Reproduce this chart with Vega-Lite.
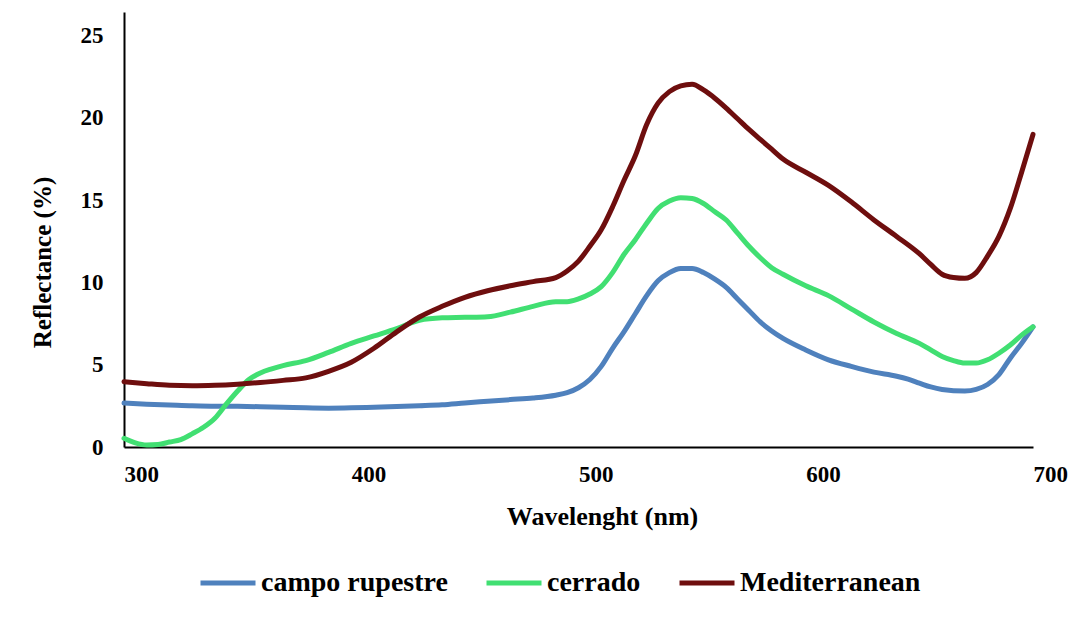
{
  "$schema": "https://vega.github.io/schema/vega-lite/v6.json",
  "width": 909,
  "height": 435,
  "autosize": "none",
  "padding": {"left": 124, "top": 12, "right": 52, "bottom": 175},
  "background": "white",
  "config": {
    "font": "Liberation Serif",
    "view": {"stroke": null}
  },
  "datasets": {
    "spectra": [
      {"series": "campo rupestre", "wl": 300, "r": 2.67}, {"series": "campo rupestre", "wl": 310, "r": 2.6}, {"series": "campo rupestre", "wl": 320, "r": 2.55}, {"series": "campo rupestre", "wl": 330, "r": 2.5}, {"series": "campo rupestre", "wl": 340, "r": 2.48}, {"series": "campo rupestre", "wl": 350, "r": 2.47}, {"series": "campo rupestre", "wl": 360, "r": 2.45}, {"series": "campo rupestre", "wl": 370, "r": 2.42}, {"series": "campo rupestre", "wl": 380, "r": 2.38}, {"series": "campo rupestre", "wl": 390, "r": 2.36}, {"series": "campo rupestre", "wl": 400, "r": 2.38}, {"series": "campo rupestre", "wl": 410, "r": 2.42}, {"series": "campo rupestre", "wl": 420, "r": 2.46}, {"series": "campo rupestre", "wl": 430, "r": 2.51}, {"series": "campo rupestre", "wl": 440, "r": 2.57}, {"series": "campo rupestre", "wl": 450, "r": 2.68}, {"series": "campo rupestre", "wl": 460, "r": 2.78}, {"series": "campo rupestre", "wl": 470, "r": 2.88}, {"series": "campo rupestre", "wl": 480, "r": 2.98}, {"series": "campo rupestre", "wl": 490, "r": 3.15}, {"series": "campo rupestre", "wl": 495, "r": 3.3}, {"series": "campo rupestre", "wl": 500, "r": 3.6}, {"series": "campo rupestre", "wl": 505, "r": 4.1}, {"series": "campo rupestre", "wl": 510, "r": 4.9}, {"series": "campo rupestre", "wl": 515, "r": 6.0}, {"series": "campo rupestre", "wl": 520, "r": 7.0}, {"series": "campo rupestre", "wl": 525, "r": 8.1}, {"series": "campo rupestre", "wl": 530, "r": 9.2}, {"series": "campo rupestre", "wl": 535, "r": 10.1}, {"series": "campo rupestre", "wl": 540, "r": 10.6}, {"series": "campo rupestre", "wl": 545, "r": 10.85}, {"series": "campo rupestre", "wl": 550, "r": 10.85}, {"series": "campo rupestre", "wl": 555, "r": 10.6}, {"series": "campo rupestre", "wl": 560, "r": 10.2}, {"series": "campo rupestre", "wl": 565, "r": 9.7}, {"series": "campo rupestre", "wl": 570, "r": 9.0}, {"series": "campo rupestre", "wl": 575, "r": 8.3}, {"series": "campo rupestre", "wl": 580, "r": 7.6}, {"series": "campo rupestre", "wl": 585, "r": 7.05}, {"series": "campo rupestre", "wl": 590, "r": 6.6}, {"series": "campo rupestre", "wl": 600, "r": 5.9}, {"series": "campo rupestre", "wl": 610, "r": 5.3}, {"series": "campo rupestre", "wl": 620, "r": 4.9}, {"series": "campo rupestre", "wl": 630, "r": 4.55}, {"series": "campo rupestre", "wl": 640, "r": 4.3}, {"series": "campo rupestre", "wl": 645, "r": 4.12}, {"series": "campo rupestre", "wl": 650, "r": 3.88}, {"series": "campo rupestre", "wl": 655, "r": 3.65}, {"series": "campo rupestre", "wl": 660, "r": 3.5}, {"series": "campo rupestre", "wl": 670, "r": 3.4}, {"series": "campo rupestre", "wl": 675, "r": 3.5}, {"series": "campo rupestre", "wl": 680, "r": 3.8}, {"series": "campo rupestre", "wl": 685, "r": 4.4}, {"series": "campo rupestre", "wl": 690, "r": 5.4}, {"series": "campo rupestre", "wl": 695, "r": 6.3}, {"series": "campo rupestre", "wl": 700, "r": 7.3},

      {"series": "cerrado", "wl": 300, "r": 0.53}, {"series": "cerrado", "wl": 305, "r": 0.25}, {"series": "cerrado", "wl": 310, "r": 0.12}, {"series": "cerrado", "wl": 315, "r": 0.15}, {"series": "cerrado", "wl": 320, "r": 0.3}, {"series": "cerrado", "wl": 325, "r": 0.45}, {"series": "cerrado", "wl": 330, "r": 0.8}, {"series": "cerrado", "wl": 335, "r": 1.2}, {"series": "cerrado", "wl": 340, "r": 1.75}, {"series": "cerrado", "wl": 345, "r": 2.6}, {"series": "cerrado", "wl": 350, "r": 3.4}, {"series": "cerrado", "wl": 355, "r": 4.1}, {"series": "cerrado", "wl": 360, "r": 4.5}, {"series": "cerrado", "wl": 365, "r": 4.75}, {"series": "cerrado", "wl": 370, "r": 4.95}, {"series": "cerrado", "wl": 380, "r": 5.25}, {"series": "cerrado", "wl": 390, "r": 5.75}, {"series": "cerrado", "wl": 400, "r": 6.3}, {"series": "cerrado", "wl": 410, "r": 6.75}, {"series": "cerrado", "wl": 420, "r": 7.2}, {"series": "cerrado", "wl": 430, "r": 7.7}, {"series": "cerrado", "wl": 440, "r": 7.85}, {"series": "cerrado", "wl": 450, "r": 7.88}, {"series": "cerrado", "wl": 460, "r": 7.92}, {"series": "cerrado", "wl": 470, "r": 8.2}, {"series": "cerrado", "wl": 480, "r": 8.55}, {"series": "cerrado", "wl": 490, "r": 8.83}, {"series": "cerrado", "wl": 495, "r": 8.83}, {"series": "cerrado", "wl": 500, "r": 9.0}, {"series": "cerrado", "wl": 505, "r": 9.3}, {"series": "cerrado", "wl": 510, "r": 9.75}, {"series": "cerrado", "wl": 515, "r": 10.6}, {"series": "cerrado", "wl": 520, "r": 11.7}, {"series": "cerrado", "wl": 525, "r": 12.6}, {"series": "cerrado", "wl": 530, "r": 13.6}, {"series": "cerrado", "wl": 535, "r": 14.5}, {"series": "cerrado", "wl": 540, "r": 14.95}, {"series": "cerrado", "wl": 545, "r": 15.15}, {"series": "cerrado", "wl": 550, "r": 15.1}, {"series": "cerrado", "wl": 555, "r": 14.8}, {"series": "cerrado", "wl": 560, "r": 14.3}, {"series": "cerrado", "wl": 565, "r": 13.8}, {"series": "cerrado", "wl": 570, "r": 13.0}, {"series": "cerrado", "wl": 575, "r": 12.2}, {"series": "cerrado", "wl": 580, "r": 11.5}, {"series": "cerrado", "wl": 585, "r": 10.9}, {"series": "cerrado", "wl": 590, "r": 10.5}, {"series": "cerrado", "wl": 600, "r": 9.8}, {"series": "cerrado", "wl": 610, "r": 9.2}, {"series": "cerrado", "wl": 620, "r": 8.4}, {"series": "cerrado", "wl": 630, "r": 7.6}, {"series": "cerrado", "wl": 640, "r": 6.9}, {"series": "cerrado", "wl": 650, "r": 6.3}, {"series": "cerrado", "wl": 655, "r": 5.9}, {"series": "cerrado", "wl": 660, "r": 5.5}, {"series": "cerrado", "wl": 665, "r": 5.25}, {"series": "cerrado", "wl": 670, "r": 5.1}, {"series": "cerrado", "wl": 675, "r": 5.1}, {"series": "cerrado", "wl": 680, "r": 5.3}, {"series": "cerrado", "wl": 685, "r": 5.7}, {"series": "cerrado", "wl": 690, "r": 6.2}, {"series": "cerrado", "wl": 695, "r": 6.8}, {"series": "cerrado", "wl": 700, "r": 7.3},

      {"series": "Mediterranean", "wl": 300, "r": 3.97}, {"series": "Mediterranean", "wl": 310, "r": 3.85}, {"series": "Mediterranean", "wl": 320, "r": 3.75}, {"series": "Mediterranean", "wl": 330, "r": 3.72}, {"series": "Mediterranean", "wl": 340, "r": 3.75}, {"series": "Mediterranean", "wl": 350, "r": 3.82}, {"series": "Mediterranean", "wl": 360, "r": 3.92}, {"series": "Mediterranean", "wl": 370, "r": 4.05}, {"series": "Mediterranean", "wl": 380, "r": 4.2}, {"series": "Mediterranean", "wl": 390, "r": 4.6}, {"series": "Mediterranean", "wl": 400, "r": 5.15}, {"series": "Mediterranean", "wl": 410, "r": 6.0}, {"series": "Mediterranean", "wl": 420, "r": 7.0}, {"series": "Mediterranean", "wl": 430, "r": 7.9}, {"series": "Mediterranean", "wl": 440, "r": 8.55}, {"series": "Mediterranean", "wl": 450, "r": 9.1}, {"series": "Mediterranean", "wl": 460, "r": 9.5}, {"series": "Mediterranean", "wl": 470, "r": 9.8}, {"series": "Mediterranean", "wl": 480, "r": 10.05}, {"series": "Mediterranean", "wl": 490, "r": 10.3}, {"series": "Mediterranean", "wl": 495, "r": 10.7}, {"series": "Mediterranean", "wl": 500, "r": 11.3}, {"series": "Mediterranean", "wl": 505, "r": 12.2}, {"series": "Mediterranean", "wl": 510, "r": 13.2}, {"series": "Mediterranean", "wl": 515, "r": 14.6}, {"series": "Mediterranean", "wl": 520, "r": 16.2}, {"series": "Mediterranean", "wl": 525, "r": 17.7}, {"series": "Mediterranean", "wl": 530, "r": 19.6}, {"series": "Mediterranean", "wl": 535, "r": 20.9}, {"series": "Mediterranean", "wl": 540, "r": 21.6}, {"series": "Mediterranean", "wl": 545, "r": 21.95}, {"series": "Mediterranean", "wl": 550, "r": 22.05}, {"series": "Mediterranean", "wl": 555, "r": 21.7}, {"series": "Mediterranean", "wl": 560, "r": 21.2}, {"series": "Mediterranean", "wl": 565, "r": 20.6}, {"series": "Mediterranean", "wl": 570, "r": 19.95}, {"series": "Mediterranean", "wl": 575, "r": 19.3}, {"series": "Mediterranean", "wl": 580, "r": 18.7}, {"series": "Mediterranean", "wl": 585, "r": 18.1}, {"series": "Mediterranean", "wl": 590, "r": 17.5}, {"series": "Mediterranean", "wl": 600, "r": 16.7}, {"series": "Mediterranean", "wl": 610, "r": 15.9}, {"series": "Mediterranean", "wl": 620, "r": 14.9}, {"series": "Mediterranean", "wl": 630, "r": 13.8}, {"series": "Mediterranean", "wl": 640, "r": 12.8}, {"series": "Mediterranean", "wl": 650, "r": 11.75}, {"series": "Mediterranean", "wl": 655, "r": 11.1}, {"series": "Mediterranean", "wl": 660, "r": 10.5}, {"series": "Mediterranean", "wl": 665, "r": 10.3}, {"series": "Mediterranean", "wl": 670, "r": 10.25}, {"series": "Mediterranean", "wl": 675, "r": 10.6}, {"series": "Mediterranean", "wl": 680, "r": 11.6}, {"series": "Mediterranean", "wl": 685, "r": 12.8}, {"series": "Mediterranean", "wl": 690, "r": 14.5}, {"series": "Mediterranean", "wl": 695, "r": 16.7}, {"series": "Mediterranean", "wl": 700, "r": 19.0}
    ]
  },
  "data": {"name": "spectra"},
  "mark": {"type": "line", "strokeWidth": 5, "interpolate": "monotone", "strokeCap": "round", "strokeJoin": "round"},
  "encoding": {
    "x": {
      "field": "wl",
      "type": "quantitative",
      "scale": {"domain": [300, 700], "nice": false, "zero": false},
      "axis": {
        "title": "Wavelenght (nm)",
        "values": [300, 400, 500, 600, 700],
        "format": "d",
        "grid": false,
        "ticks": false,
        "domainColor": "black",
        "domainWidth": 2,
        "labelFont": "Liberation Serif",
        "labelFontSize": 23,
        "labelFontWeight": "bold",
        "labelColor": "black",
        "labelAlign": "left",
        "labelPadding": 16,
        "labelFlush": false,
        "titleFont": "Liberation Serif",
        "titleFontSize": 26,
        "titleFontWeight": "bold",
        "titleColor": "black",
        "titleX": 478,
        "titleY": 77,
        "titleBaseline": "alphabetic"
      }
    },
    "y": {
      "field": "r",
      "type": "quantitative",
      "scale": {"domain": [0, 26.44], "nice": false},
      "axis": {
        "title": "Reflectance (%)",
        "values": [0, 5, 10, 15, 20, 25],
        "grid": false,
        "ticks": false,
        "domainColor": "black",
        "domainWidth": 2,
        "labelFont": "Liberation Serif",
        "labelFontSize": 23,
        "labelFontWeight": "bold",
        "labelColor": "black",
        "labelPadding": 21,
        "titleFont": "Liberation Serif",
        "titleFontSize": 25,
        "titleFontWeight": "bold",
        "titleColor": "black",
        "titleX": -74,
        "titleY": 250,
        "titleBaseline": "alphabetic"
      }
    },
    "color": {
      "field": "series",
      "type": "nominal",
      "scale": {
        "domain": ["campo rupestre", "cerrado", "Mediterranean"],
        "range": ["#4F81BD", "#41DF72", "#6E0E0E"]
      },
      "legend": {
        "title": null,
        "orient": "none",
        "direction": "horizontal",
        "legendX": 74,
        "legendY": 541,
        "symbolType": "stroke",
        "symbolSize": 3025,
        "symbolStrokeWidth": 5,
        "labelFont": "Liberation Serif",
        "labelFontSize": 28,
        "labelFontWeight": "bold",
        "labelColor": "black",
        "labelOffset": 3,
        "columnPadding": 28,
        "labelLimit": 400
      }
    }
  }
}
